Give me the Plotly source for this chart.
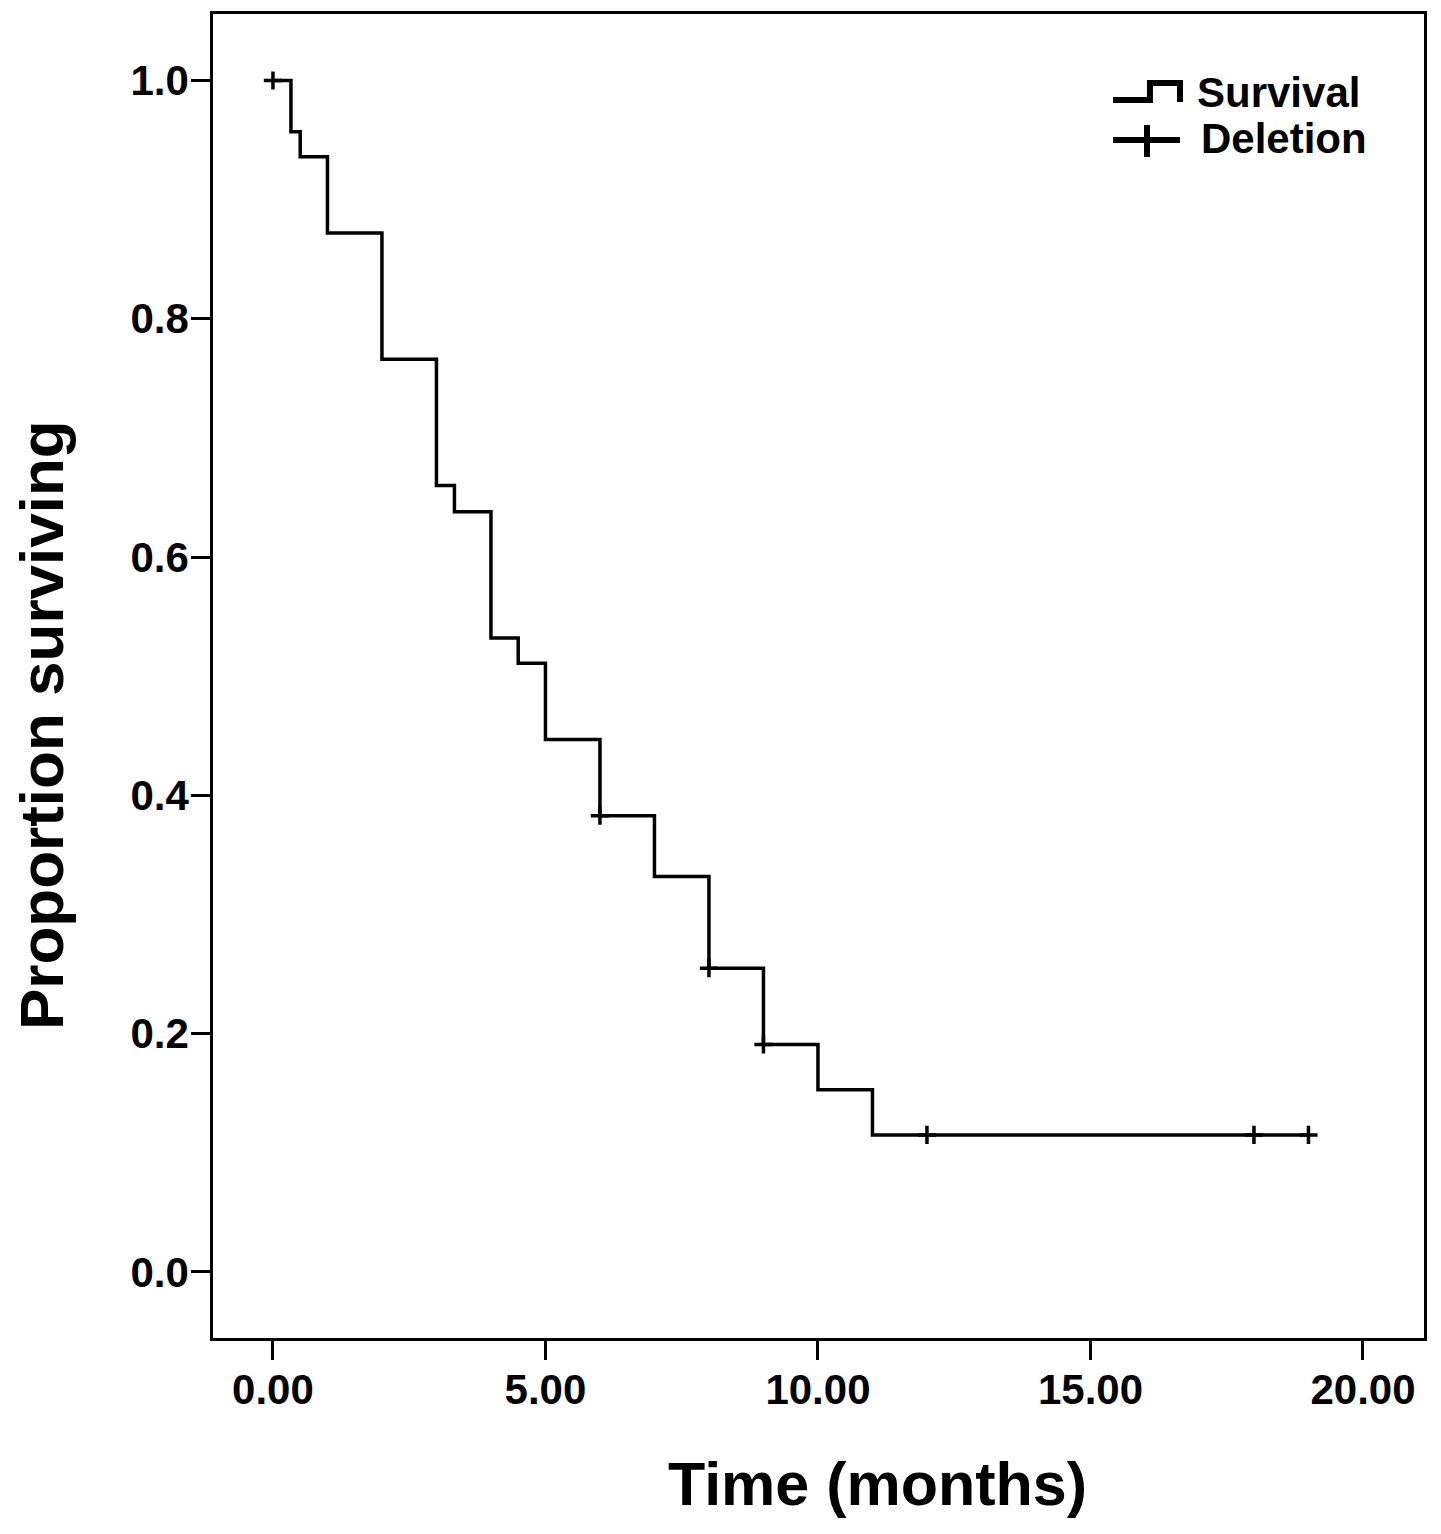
import plotly.graph_objects as go

# ---- data ----
event_times = [0, 0.33, 0.5, 1, 2, 3, 3.33, 4, 4.5, 5, 6, 7, 8, 9, 10, 11, 19]
survival = [1.0, 0.957, 0.936, 0.872, 0.766, 0.660, 0.638, 0.532, 0.511, 0.447,
            0.383, 0.332, 0.255, 0.191, 0.153, 0.115, 0.115]
censor_times = [0, 6, 8, 9, 12, 18, 19]
censor_values = [1.0, 0.383, 0.255, 0.191, 0.115, 0.115, 0.115]
x_ticks = [0, 5, 10, 15, 20]
y_ticks = [0.0, 0.2, 0.4, 0.6, 0.8, 1.0]
legend_labels = ["Survival", "Deletion"]

OFF = 8  # default page body margin
W, H = 1441 - OFF, 1534 - OFF
# plot frame in page pixels
L, R, T, B = 213, 1424, 14, 1338
FONT = "Liberation Sans, Arial, sans-serif"


def px(xp):
    return (xp - L) / (R - L)


def py(yp):
    return (B - yp) / (B - T)


fig = go.Figure()
fig.add_trace(go.Scatter(
    x=event_times, y=survival, mode="lines", line=dict(color="black", width=3.5, shape="hv"),
    name=legend_labels[0], showlegend=False, hoverinfo="x+y"))
fig.add_trace(go.Scatter(
    x=censor_times, y=censor_values, mode="markers", name=legend_labels[1], showlegend=False,
    marker=dict(symbol="cross-thin", size=13, line=dict(color="black", width=3.5))))

axis_common = dict(showline=True, mirror=True, linecolor="black", linewidth=2.5,
                   ticks="outside", ticklen=19, tickwidth=2.5, tickcolor="black",
                   showgrid=False, zeroline=False, ticklabelstandoff=-6,
                   tickfont=dict(family=FONT, size=42, color="black", weight="bold"))

fig.update_xaxes(range=[-1.10, 21.12], tickvals=x_ticks, tickformat=".2f", **axis_common)
fig.update_yaxes(range=[-0.0554, 1.0558], tickvals=y_ticks, tickformat=".1f", **axis_common)

# legend icons (drawn in paper space)
path = "M {:.4f},{:.4f} L {:.4f},{:.4f} L {:.4f},{:.4f} L {:.4f},{:.4f} L {:.4f},{:.4f}".format(
    px(1113), py(100), px(1150), py(100), px(1150), py(83), px(1180), py(83), px(1180), py(102))
shapes = [
    dict(type="path", xref="paper", yref="paper", path=path, line=dict(color="black", width=6)),
    dict(type="line", xref="paper", yref="paper", x0=px(1113), x1=px(1180), y0=py(140), y1=py(140),
         line=dict(color="black", width=6)),
    dict(type="line", xref="paper", yref="paper", x0=px(1147), x1=px(1147), y0=py(125), y1=py(157),
         line=dict(color="black", width=6)),
]

annotations = [
    dict(text=legend_labels[0], xref="paper", yref="paper", x=px(1195), y=py(92),
         xanchor="left", yanchor="middle", showarrow=False,
         font=dict(family=FONT, size=42, color="black", weight="bold")),
    dict(text=legend_labels[1], xref="paper", yref="paper", x=px(1199), y=py(138),
         xanchor="left", yanchor="middle", showarrow=False,
         font=dict(family=FONT, size=42, color="black", weight="bold")),
    dict(text="Time (months)", xref="paper", yref="paper", x=px(877), y=py(1484),
         xanchor="center", yanchor="middle", showarrow=False,
         font=dict(family=FONT, size=61, color="black", weight="bold")),
    dict(text="Proportion surviving", xref="paper", yref="paper", x=px(42), y=py(725),
         xanchor="center", yanchor="middle", showarrow=False, textangle=-90,
         font=dict(family=FONT, size=62, color="black", weight="bold")),
]

fig.update_layout(width=W, height=H,
                  margin=dict(l=L - OFF, r=(1441 - R), t=T - OFF, b=(1534 - B), autoexpand=False),
                  plot_bgcolor="white", paper_bgcolor="white",
                  shapes=shapes, annotations=annotations, showlegend=False)

fig.write_html("out.html")
